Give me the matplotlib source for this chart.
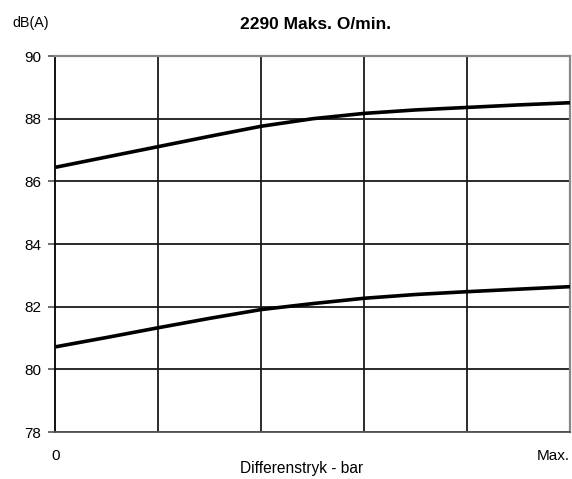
import matplotlib
matplotlib.use('Agg')
import matplotlib.pyplot as plt

plt.rcParams['font.family'] = ['Liberation Sans', 'DejaVu Sans']

# Differential pressure as fraction of max, sound levels in dB(A)
pressure = [0.0, 0.1, 0.2, 0.3, 0.4, 0.5, 0.6, 0.7, 0.8, 0.9, 1.0]
level_high = [86.45, 86.78, 87.11, 87.44, 87.76, 88.0, 88.17, 88.28, 88.36, 88.44, 88.51]
level_low = [80.72, 81.02, 81.33, 81.63, 81.91, 82.1, 82.27, 82.39, 82.48, 82.56, 82.64]

y_ticks = [78, 80, 82, 84, 86, 88, 90]
x_grid = [0.0, 0.2, 0.4, 0.6, 0.8, 1.0]

fig = plt.figure(figsize=(5.72, 4.79), dpi=100)
ax = fig.add_axes([0.097, 0.098, 0.8995, 0.785])

for lvl in (level_high, level_low):
    ax.plot(pressure, lvl, color='black', lw=2.6, solid_joinstyle='round',
            solid_capstyle='butt', zorder=3)

for y in y_ticks:
    ax.axhline(y, color='#1a1a1a', lw=1.3, zorder=2)
for x in x_grid[1:-1]:
    ax.axvline(x, color='#1a1a1a', lw=1.3, zorder=2)

ax.set_xlim(0, 1)
ax.set_ylim(78, 90)
ax.set_yticks(y_ticks)
ax.set_xticks([0, 1])
ax.set_xticklabels(['0', 'Max.'])
ax.get_xticklabels()[1].set_horizontalalignment('right')
ax.tick_params(axis='x', length=0, pad=12, labelsize=11)
ax.tick_params(axis='y', length=5, width=1.2, color='#555555', pad=5, labelsize=11)

ax.spines['left'].set_color('black')
ax.spines['left'].set_linewidth(1.3)
ax.spines['bottom'].set_color('#555555')
ax.spines['bottom'].set_linewidth(1.3)
for s in ('top', 'right'):
    ax.spines[s].set_color('#888888')
    ax.spines[s].set_linewidth(1.6)

# axis caption sits just under the tick labels
fig.text(0.528, 0.021, 'Differenstryk - bar', ha='center', va='center', fontsize=11.2)
fig.text(0.5516, 0.948, '2290 Maks. O/min.', ha='center', va='center',
         fontsize=12.5, fontweight='bold')
fig.text(0.021, 0.951, 'dB(A)', ha='left', va='center', fontsize=10.3)

plt.savefig('out.png', dpi=100)
